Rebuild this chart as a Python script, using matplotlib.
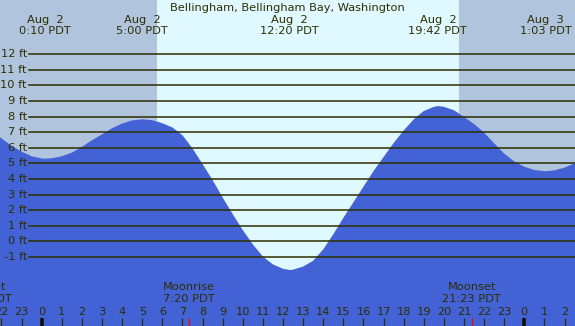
import matplotlib
matplotlib.use("Agg")
import matplotlib.pyplot as plt
import matplotlib.transforms as mtransforms

# ---------------- data ----------------
title = "Bellingham, Bellingham Bay, Washington"

# tide height (ft) vs hours since Aug 2 00:00 PDT
tide_hours = [-2.5, -2.0, -1.5, -1.0, -0.5, 0.0, 0.17, 0.5, 1.0, 1.5, 2.0, 2.5, 3.0,
              3.5, 4.0, 4.5, 5.0, 5.5, 6.0, 6.5, 7.0, 7.5, 8.0, 8.5, 9.0, 9.5,
              10.0, 10.5, 11.0, 11.5, 12.0, 12.33, 12.5, 13.0, 13.5, 14.0, 14.5,
              15.0, 15.5, 16.0, 16.5, 17.0, 17.5, 18.0, 18.5, 19.0, 19.5, 19.72,
              20.0, 20.5, 21.0, 21.5, 22.0, 22.5, 23.0, 23.5, 24.0, 24.5, 25.05,
              25.5, 26.0, 26.5, 27.0]
tide_ft = [7.05, 6.60, 6.12, 5.75, 5.45, 5.31, 5.30, 5.32, 5.45, 5.68, 6.05, 6.48, 6.85,
           7.25, 7.55, 7.75, 7.82, 7.76, 7.57, 7.30, 6.80, 5.95, 4.95, 3.92, 2.80, 1.74,
           0.72, -0.20, -0.98, -1.48, -1.76, -1.84, -1.82, -1.62, -1.25, -0.52, 0.45,
           1.50, 2.50, 3.50, 4.50, 5.40, 6.30, 7.10, 7.82, 8.35, 8.62, 8.67,
           8.62, 8.40, 7.97, 7.52, 6.96, 6.28, 5.62, 5.12, 4.78, 4.57, 4.49,
           4.55, 4.72, 5.00, 5.33]

# extremes (time labels at top)
extreme_hours = [0.167, 5.0, 12.333, 19.7, 25.05]
extreme_dates = ["Aug  2", "Aug  2", "Aug  2", "Aug  2", "Aug  3"]
extreme_times = ["0:10 PDT", "5:00 PDT", "12:20 PDT", "19:42 PDT", "1:03 PDT"]

# daylight
sunrise_h = 5.73
sunset_h = 20.75

# moon events
moon_hours = [-2.97, 7.333, 21.383]
moon_names = ["Moonset", "Moonrise", "Moonset"]
moon_times = ["21:02 PDT", "7:20 PDT", "21:23 PDT"]

# axis labels
feet_levels = [-1, 0, 1, 2, 3, 4, 5, 6, 7, 8, 9, 10, 11, 12]
hour_ticks = list(range(-2, 27))

# ---------------- style ----------------
W, H = 575, 326
x0_px, px_per_h = 41.7, 20.11
y0_px, px_per_ft = 241.3, 15.6
night_col = "#b0c4de"
day_col = "#e0f8ff"
water_col = "#4262d6"
ink = "#2e2e00"
fs = 8.2

fig = plt.figure(figsize=(W / 100, H / 100), dpi=100)
ax = fig.add_axes([0, 0, 1, 1])
xmin = -x0_px / px_per_h
xmax = (W - x0_px) / px_per_h
ymax = y0_px / px_per_ft
ymin = -(H - y0_px) / px_per_ft
ax.set_xlim(xmin, xmax)
ax.set_ylim(ymin, ymax)
ax.axis("off")
ax.set_facecolor(night_col)
fig.patch.set_facecolor(night_col)

ax.axvspan(xmin, sunrise_h, color=night_col, lw=0, zorder=0)
ax.axvspan(sunrise_h, sunset_h, color=day_col, lw=0, zorder=0)
ax.axvspan(sunset_h, xmax, color=night_col, lw=0, zorder=0)

ax.fill_between(tide_hours, tide_ft, ymin - 1, color=water_col, lw=0, zorder=1)

# grid lines + labels
for v in feet_levels:
    ax.axhline(v, xmin=29 / W, xmax=1, color=ink, lw=1.1, zorder=2)
    ax.text(27 / W, v, f"{v} ft", transform=mtransforms.blended_transform_factory(ax.transAxes, ax.transData),
            ha="right", va="center", fontsize=fs, color=ink, zorder=3)

bt = mtransforms.blended_transform_factory(ax.transData, ax.transAxes)

# hour ticks and labels
tick_top = 8 / H
for h in hour_ticks:
    hh = h % 24
    if hh == 0:
        ax.plot([h, h], [0, tick_top], transform=bt, color="#111100", lw=2.6,
                solid_capstyle="butt", zorder=4)
    else:
        ax.plot([h, h], [0, tick_top], transform=bt, color=ink, lw=0.9,
                solid_capstyle="butt", zorder=4)
    ax.text(h, 1 - 312 / H, str(hh), transform=bt, ha="center", va="center",
            fontsize=fs, color=ink, zorder=4)

# moon events
for mh, mn, mt in zip(moon_hours, moon_names, moon_times):
    ax.plot([mh, mh], [0, tick_top], transform=bt, color="red", lw=0.9,
            solid_capstyle="butt", zorder=5)
    ax.text(mh, 1 - 287.5 / H, mn, transform=bt, ha="center", va="center",
            fontsize=fs, color=ink, zorder=4)
    ax.text(mh, 1 - 299.5 / H, mt, transform=bt, ha="center", va="center",
            fontsize=fs, color=ink, zorder=4)

# extremes labels
for eh, ed, et in zip(extreme_hours, extreme_dates, extreme_times):
    ax.text(eh, 1 - 20 / H, ed, transform=bt, ha="center", va="center",
            fontsize=fs, color=ink, zorder=4)
    ax.text(eh, 1 - 31.5 / H, et, transform=bt, ha="center", va="center",
            fontsize=fs, color=ink, zorder=4)

# title
fig.text(0.5, 1 - 8 / H, title, ha="center", va="center", fontsize=fs, color=ink)

fig.savefig("out.png", dpi=100, facecolor=night_col)
